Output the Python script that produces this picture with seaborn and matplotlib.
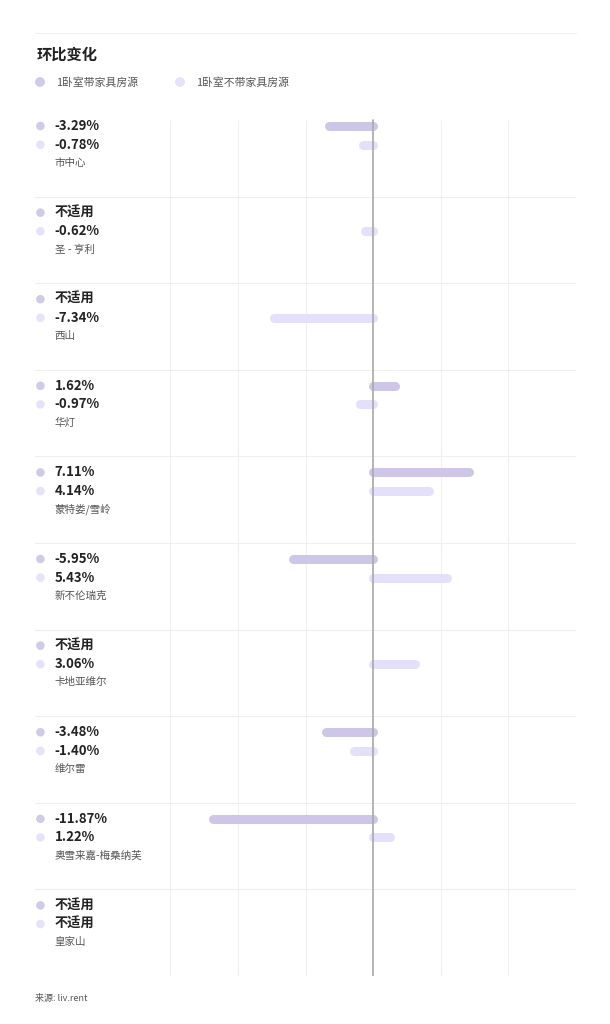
import numpy as np
import pandas as pd
import matplotlib
matplotlib.use("Agg")
import matplotlib.pyplot as plt
from matplotlib.patches import Ellipse
import seaborn as sns

# ---- data ----
neighborhoods = ["市中心", "圣 - 亨利", "西山", "华灯", "蒙特娄/雪岭", "新不伦瑞克",
                 "卡地亚维尔", "维尔雷", "奥雪来嘉-梅桑纳芙", "皇家山"]
furnished = [-3.29, None, None, 1.62, 7.11, -5.95, None, -3.48, -11.87, None]
unfurnished = [-0.78, -0.62, -7.34, -0.97, 4.14, 5.43, 3.06, -1.40, 1.22, None]
series_names = ["1卧室带家具房源", "1卧室不带家具房源"]
title = "环比变化"
source = "来源: liv.rent"
grid_ticks = [-15, -10, -5, 0, 5, 10, 15]

sns.set_theme(style="white")
plt.rcParams['font.family'] = ['Noto Sans CJK SC', 'DejaVu Sans']

C_F = "#cec6e6"
C_U = "#e4e0fa"
DOT_F = "#d0cae6"
DOT_U = "#e6e2f8"

W, H = 610, 1024
fig = plt.figure(figsize=(W / 100, H / 100), dpi=100)

left_px, right_px, top_px, bot_px = 35, 576, 110, 976
ax = fig.add_axes([left_px / W, 1 - bot_px / H, (right_px - left_px) / W, (bot_px - top_px) / H])
n = len(neighborhoods)

# grid lines
for t in grid_ticks:
    if t == 0:
        continue
    ax.axvline(t, ymin=0, ymax=0.988, color="#f0f0f0", lw=0.8, zorder=0)
for i in range(1, n + 1):
    ax.axhline(i, color="#eeeeee", lw=0.8, zorder=0)

OFF_F, OFF_U, OFF_N = 0.185, 0.40, 0.61

rows = []
for i, (f, u) in enumerate(zip(furnished, unfurnished)):
    if f is not None:
        rows += [dict(x=0, y=i + OFF_F, seg=f"f{i}", s="f"), dict(x=f, y=i + OFF_F, seg=f"f{i}", s="f")]
    if u is not None:
        rows += [dict(x=0, y=i + OFF_U, seg=f"u{i}", s="u"), dict(x=u, y=i + OFF_U, seg=f"u{i}", s="u")]
df = pd.DataFrame(rows)
for s, c in [("f", C_F), ("u", C_U)]:
    sub = df[df.s == s]
    sns.lineplot(data=sub, x="x", y="y", units="seg", estimator=None, sort=False,
                 color=c, lw=6.5, solid_capstyle="round", ax=ax, legend=False, zorder=2)

ax.axvline(0, ymin=0, ymax=0.988, color="#a8a8a8", lw=1.2, zorder=3)

dot_df = pd.DataFrame({
    "x": [-24.6] * (2 * n),
    "y": [i + OFF_F for i in range(n)] + [i + OFF_U for i in range(n)],
    "s": ["f"] * n + ["u"] * n,
})
sns.scatterplot(data=dot_df, x="x", y="y", hue="s", palette={"f": DOT_F, "u": DOT_U},
                s=38, edgecolor="none", legend=False, ax=ax, zorder=3)
ax.set_xlim(-25, 15)
ax.set_ylim(n, 0)
ax.axis("off")

def fmt(v):
    return "不适用" if v is None else f"{v:.2f}%"

for i in range(n):
    ax.text(-23.55, i + OFF_F, fmt(furnished[i]), fontsize=9.5, fontweight="bold",
            color="#222222", va="center", ha="left")
    ax.text(-23.55, i + OFF_U, fmt(unfurnished[i]), fontsize=9.5, fontweight="bold",
            color="#222222", va="center", ha="left")
    ax.text(-23.55, i + OFF_N, neighborhoods[i], fontsize=7.6, color="#555555",
            va="center", ha="left")

# header
fig.add_artist(plt.Line2D([35 / W, 576 / W], [1 - 33 / H, 1 - 33 / H], color="#f0f0f0", lw=0.8))
fig.text(37 / W, 1 - 55 / H, title, fontsize=11, fontweight="bold", color="#222222", va="center")
lx = [40, 180]
for k, (name, c) in enumerate(zip(series_names, [DOT_F, DOT_U])):
    fig.add_artist(Ellipse((lx[k] / W, 1 - 82 / H), width=8.4 / W, height=8.4 / H,
                           color=c, transform=fig.transFigure))
    fig.text((lx[k] + 16) / W, 1 - 82 / H, name, fontsize=7.8, color="#555555", va="center")

fig.text(35 / W, 1 - 998 / H, source, fontsize=6.5, color="#555555", va="center")

fig.savefig("out.png", dpi=100, facecolor="white")
